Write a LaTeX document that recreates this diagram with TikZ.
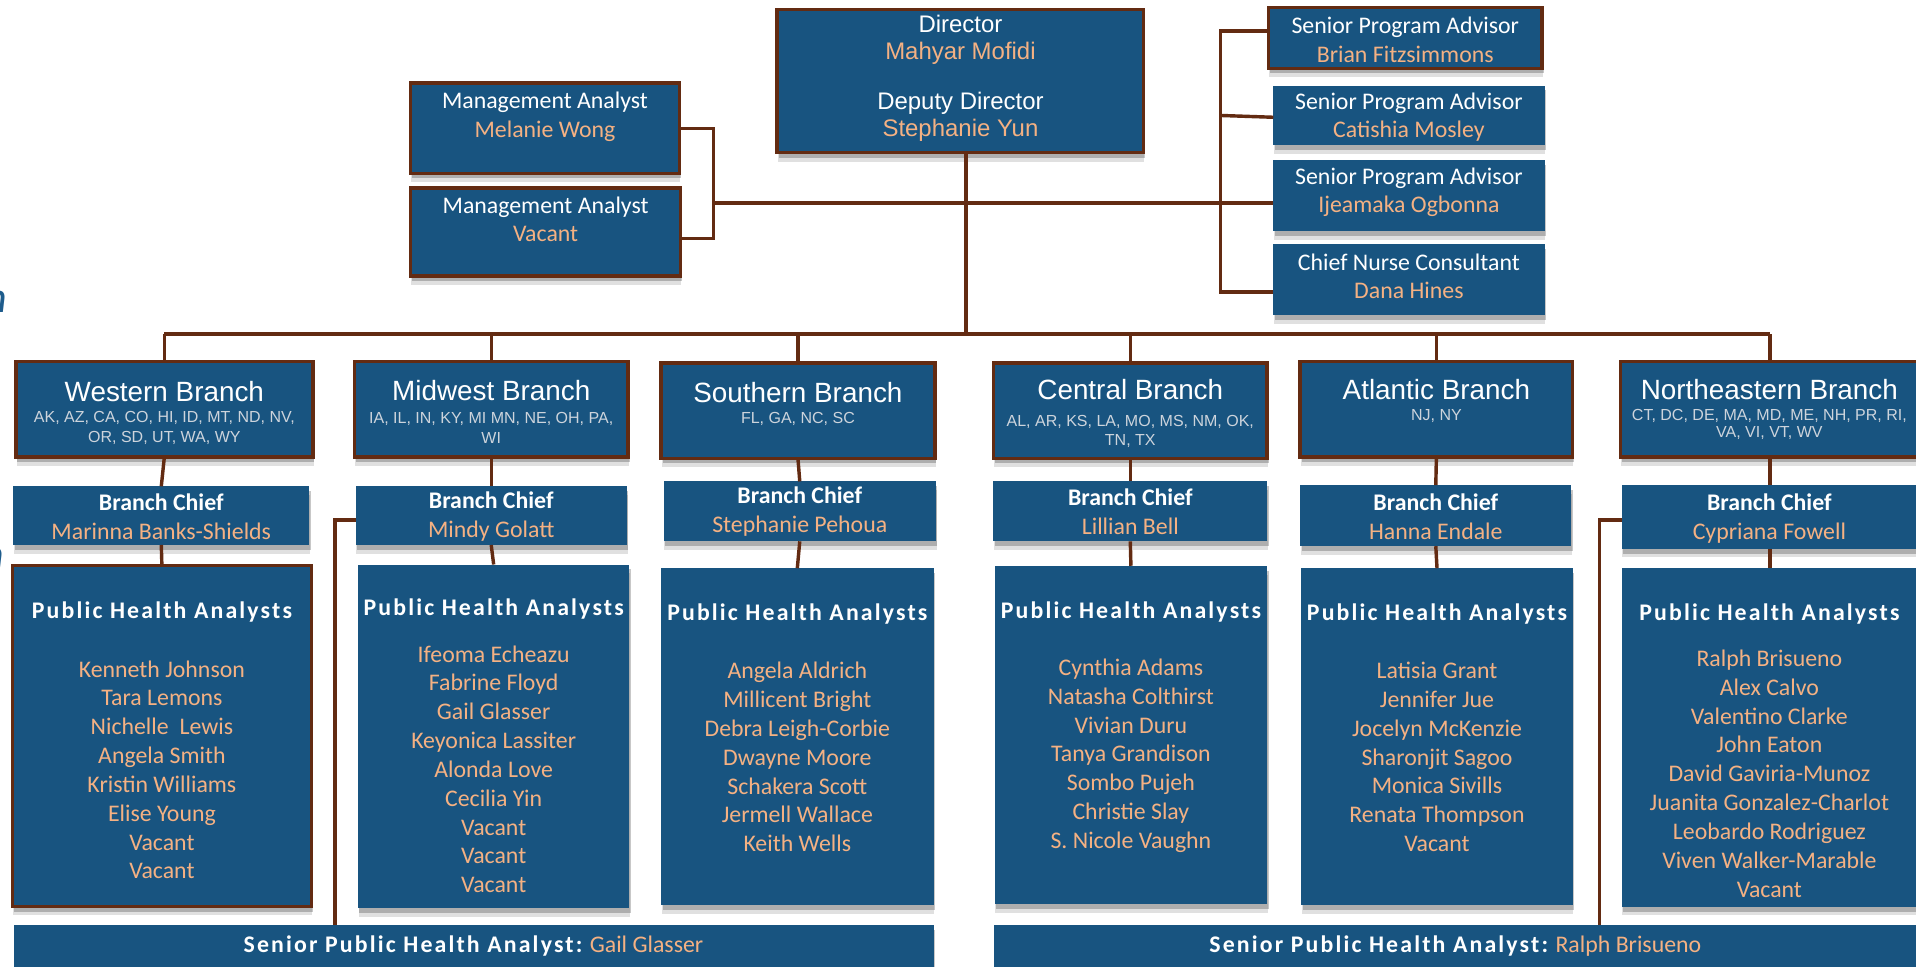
\documentclass[tikz,border=0pt]{standalone}
\usepackage{fontspec}
\setmainfont{Carlito}
\newfontfamily\arialfnt{Liberation Sans}
\newfontfamily\calfnt{Carlito}
\newfontfamily\calspfnt{Carlito}[LetterSpace=9]
\usetikzlibrary{shadows,calc}
\definecolor{boxblue}{RGB}{24,84,128}
\definecolor{brd}{RGB}{99,43,18}
\definecolor{org}{RGB}{244,177,131}
\definecolor{stgray}{RGB}{205,212,220}
\definecolor{fragblue}{RGB}{30,92,140}
\tikzset{
  bx/.style={fill=boxblue, draw=none, inner sep=0pt, outer sep=0pt,
    drop shadow={shadow xshift=0.6pt, shadow yshift=-2pt, opacity=0.22, fill=black},
    drop shadow={shadow xshift=0.3pt, shadow yshift=-3.6pt, opacity=0.12, fill=black}},
  bxb/.style={bx, draw=brd, line width=1.4pt},
  conn/.style={draw=brd, line width=1.4pt},
  t/.style={inner sep=0pt, outer sep=0pt, align=center, text=white},
  cal/.style={font=\calfnt\fontsize{9.75}{11.6}\selectfont},
  nm/.style={font=\calfnt\fontsize{9.75}{11.8}\selectfont, text=org},
  ttl/.style={font=\arialfnt\fontsize{11.4}{13}\selectfont},
  st/.style={font=\arialfnt\fontsize{6.55}{8}\selectfont, text=stgray},
  phah/.style={font=\calspfnt\bfseries\fontsize{9.75}{11.6}\selectfont},
}
\newcommand\mkbox[6]{\node[#6, minimum width={0.5pt*(#4-#2)}, minimum height={0.5pt*(#5-#3)}] (#1) at ({(#2+#4)/2},{(#3+#5)/2}) {};}
\begin{document}
\begin{tikzpicture}[x=0.5pt,y=-0.5pt]
\useasboundingbox (0,0) rectangle (1568,791);
\fill[white] (0,0) rectangle (1568,791);
% fragments at left edge (cut off in the reference as well)
\node[anchor=base east, inner sep=0pt, font=\calfnt\itshape\fontsize{18}{20}\selectfont, text=fragblue] (frag1) at (6,256) {n};
\node[anchor=base east, inner sep=0pt, font=\calfnt\itshape\fontsize{18}{20}\selectfont, text=fragblue] (frag2) at (4,466) {n};
% top boxes
\mkbox{dir}{636}{8}{936}{125}{bxb}
\mkbox{ma1}{336}{68}{556}{142}{bxb}
\mkbox{ma2}{336}{154}{557}{226}{bxb}
\mkbox{spa1}{1038}{6}{1262}{56}{bxb}
\mkbox{spa2}{1042}{70}{1264}{119}{bx}
\mkbox{spa3}{1042}{131}{1264}{189}{bx}
\mkbox{cnc}{1042}{200}{1264}{258}{bx}
% branch boxes
\mkbox{west}{13}{296}{256}{374}{bxb}
\mkbox{midw}{290}{296}{514}{374}{bxb}
\mkbox{south}{541}{297}{765}{375}{bxb}
\mkbox{cent}{813}{297}{1037}{375}{bxb}
\mkbox{atl}{1064}{296}{1287}{374}{bxb}
\mkbox{ne}{1326}{296}{1572}{374}{bxb}
% chief boxes
\mkbox{westc}{11}{398}{253}{446}{bx}
\mkbox{midwc}{291}{398}{513}{446}{bx}
\mkbox{southc}{543}{394}{766}{443}{bx}
\mkbox{centc}{813}{394}{1037}{443}{bx}
\mkbox{atlc}{1064}{397}{1286}{447}{bx}
\mkbox{nec}{1327}{397}{1572}{449}{bx}
% PHA boxes
\mkbox{westp}{10}{463}{255}{742}{bxb}
\mkbox{midwp}{293}{462}{515}{743}{bx}
\mkbox{southp}{541}{465}{764}{741}{bx}
\mkbox{centp}{814}{463}{1037}{740}{bx}
\mkbox{atlp}{1065}{465}{1287}{741}{bx}
\mkbox{nep}{1327}{465}{1572}{742}{bx}
% senior bars
\mkbox{spl}{11.5}{757}{764}{800}{bx}
\mkbox{spr}{813.5}{757}{1572}{800}{bx}

% texts top
\node[t, font=\arialfnt\fontsize{9.8}{11}\selectfont] (dirt) at (dir.center |- 0,64) {Director\\\textcolor{org}{Mahyar Mofidi}\\[9.5pt]Deputy Director\\\textcolor{org}{Stephanie Yun}};
\node[t, cal] (ma1t) at (ma1.center |- 0,95.5) {Management Analyst\\\textcolor{org}{Melanie Wong}};
\node[t, cal] (ma2t) at (ma2.center |- 0,179.5) {Management Analyst\\\textcolor{org}{Vacant}};
\node[t, cal] (spa1t) at (1150,32.5) {Senior Program Advisor\\\textcolor{org}{Brian Fitzsimmons}};
\node[t, cal] (spa2t) at (spa2.center |- 0,96) {Senior Program Advisor\\\textcolor{org}{Catishia Mosley}};
\node[t, cal] (spa3t) at (spa3.center |- 0,157.5) {Senior Program Advisor\\\textcolor{org}{Ijeamaka Ogbonna}};
\node[t, cal] (cnct) at (cnc.center |- 0,226) {Chief Nurse Consultant\\\textcolor{org}{Dana Hines}};

% branch titles
\node[t, ttl] (westt) at (west.center |- 0,320.5) {Western Branch};
\node[t, st] (wests) at (west.center |- 0,350) {AK, AZ, CA, CO, HI, ID, MT, ND, NV,\\OR, SD, UT, WA, WY};
\node[t, ttl] (midwt) at (midw.center |- 0,319.5) {Midwest Branch};
\node[t, st] (midws) at (midw.center |- 0,350) {IA, IL, IN, KY, MI MN, NE, OH, PA,\\WI};
\node[t, ttl] (southt) at (south.center |- 0,321) {Southern Branch};
\node[t, st] (souths) at (south.center |- 0,342.5) {FL, GA, NC, SC};
\node[t, ttl] (centt) at (cent.center |- 0,319) {Central Branch};
\node[t, st] (cents) at (cent.center |- 0,353) {AL, AR, KS, LA, MO, MS, NM, OK,\\TN, TX};
\node[t, ttl] (atlt) at (atl.center |- 0,319) {Atlantic Branch};
\node[t, st] (atls) at (atl.center |- 0,340.5) {NJ, NY};
\node[t, ttl] (net) at (1448,319) {Northeastern Branch};
\node[t, st, font=\arialfnt\fontsize{6.55}{7.1}\selectfont] (nes) at (1448,347.5) {CT, DC, DE, MA, MD, ME, NH, PR, RI,\\VA, VI, VT, WV};

% chiefs
\node[t, font=\calfnt\fontsize{9.75}{11.9}\selectfont] (westct) at (westc.center |- 0,422.5) {\textbf{Branch Chief}\\\textcolor{org}{Marinna Banks-Shields}};
\node[t, font=\calfnt\fontsize{9.75}{11.9}\selectfont] (midwct) at (midwc.center |- 0,422.5) {\textbf{Branch Chief}\\\textcolor{org}{Mindy Golatt}};
\node[t, font=\calfnt\fontsize{9.75}{11.9}\selectfont] (southct) at (southc.center |- 0,419) {\textbf{Branch Chief}\\\textcolor{org}{Stephanie Pehoua}};
\node[t, font=\calfnt\fontsize{9.75}{11.9}\selectfont] (centct) at (centc.center |- 0,419) {\textbf{Branch Chief}\\\textcolor{org}{Lillian Bell}};
\node[t, font=\calfnt\fontsize{9.75}{11.9}\selectfont] (atlct) at (atlc.center |- 0,422.5) {\textbf{Branch Chief}\\\textcolor{org}{Hanna Endale}};
\node[t, font=\calfnt\fontsize{9.75}{11.9}\selectfont] (nect) at (1448,424) {\textbf{Branch Chief}\\\textcolor{org}{Cypriana Fowell}};

% PHA headers
\node[t, phah] (westh) at (westp.center |- 0,500.6) {Public Health Analysts};
\node[t, phah] (midwh) at (midwp.center |- 0,498.7) {Public Health Analysts};
\node[t, phah] (southh) at (southp.center |- 0,502.5) {Public Health Analysts};
\node[t, phah] (centh) at (centp.center |- 0,500.6) {Public Health Analysts};
\node[t, phah] (atlh) at (atlp.center |- 0,502.5) {Public Health Analysts};
\node[t, phah] (neh) at (1448,502.5) {Public Health Analysts};

% names
\node[t, nm] (westn) at (westp.center |- 0,630) {Kenneth Johnson\\Tara Lemons\\Nichelle\ \ Lewis\\Angela Smith\\Kristin Williams\\Elise Young\\Vacant\\Vacant};
\node[t, nm] (midwn) at (midwp.center |- 0,629.5) {Ifeoma Echeazu\\Fabrine Floyd\\Gail Glasser\\Keyonica Lassiter\\Alonda Love\\Cecilia Yin\\Vacant\\Vacant\\Vacant};
\node[t, nm] (southn) at (southp.center |- 0,619.5) {Angela Aldrich\\Millicent Bright\\Debra Leigh-Corbie\\Dwayne Moore\\Schakera Scott\\Jermell Wallace\\Keith Wells};
\node[t, nm] (centn) at (centp.center |- 0,618.5) {Cynthia Adams\\Natasha Colthirst\\Vivian Duru\\Tanya Grandison\\Sombo Pujeh\\Christie Slay\\S. Nicole Vaughn};
\node[t, nm] (atln) at (atlp.center |- 0,619.5) {Latisia Grant\\Jennifer Jue\\Jocelyn McKenzie\\Sharonjit Sagoo\\Monica Sivills\\Renata Thompson\\Vacant};
\node[t, nm] (nen) at (1448,633) {Ralph Brisueno\\Alex Calvo\\Valentino Clarke\\John Eaton\\David Gaviria-Munoz\\Juanita Gonzalez-Charlot\\Leobardo Rodriguez\\Viven Walker-Marable\\Vacant};

% senior bars text
\node[t, phah] (splt) at (387.5,774) {Senior Public Health Analyst:~\textcolor{org}{\calfnt\mdseries Gail Glasser}};
\node[t, phah] (sprt) at (1191,774) {Senior Public Health Analyst:~\textcolor{org}{\calfnt\mdseries Ralph Brisueno}};

% connectors
\coordinate (bus) at (790.6,273.5);
\coordinate (lbr) at (584,166);
\coordinate (rbr) at (999,166);
\coordinate (mbx) at (274,0);
\coordinate (nbx) at (1309,0);
\coordinate (nex) at (1448.5,0);
\draw[conn] (dir.south -| bus) -- (bus);
\draw[conn] (west.north |- bus) -- (nex |- bus);
\foreach \b in {west,midw,south,cent,atl} {\draw[conn] (\b.north |- bus) -- (\b.north);}
\draw[conn] (nex |- bus) -- (ne.north -| nex);
\draw[conn] (ma1.east) -| (lbr) |- ($(ma2.north east)!0.57!(ma2.south east)$);
\draw[conn] (lbr) -- (rbr);
\draw[conn] ($(spa1.north west)!0.39!(spa1.south west)$) -| (rbr) |- ($(cnc.north west)!0.67!(cnc.south west)$);
\draw[conn] (rbr |- spa2.center) -- ($(spa2.north west)!0.53!(spa2.south west)$);
\draw[conn] (rbr) -- (rbr -| spa3.west);
\foreach \b in {west,midw,south,cent,atl} {\draw[conn] (\b.south) -- (\b c.north); \draw[conn] (\b c.south) -- (\b p.north);}
\draw[conn] (ne.south -| nex) -- (nec.north -| nex);
\draw[conn] (nec.south -| nex) -- (nep.north -| nex);
\draw[conn] ($(midwc.north west)!0.575!(midwc.south west)$) -| (spl.north -| mbx);
\draw[conn] ($(nec.north west)!0.55!(nec.south west)$) -| (spr.north -| nbx);
\end{tikzpicture}
\end{document}
